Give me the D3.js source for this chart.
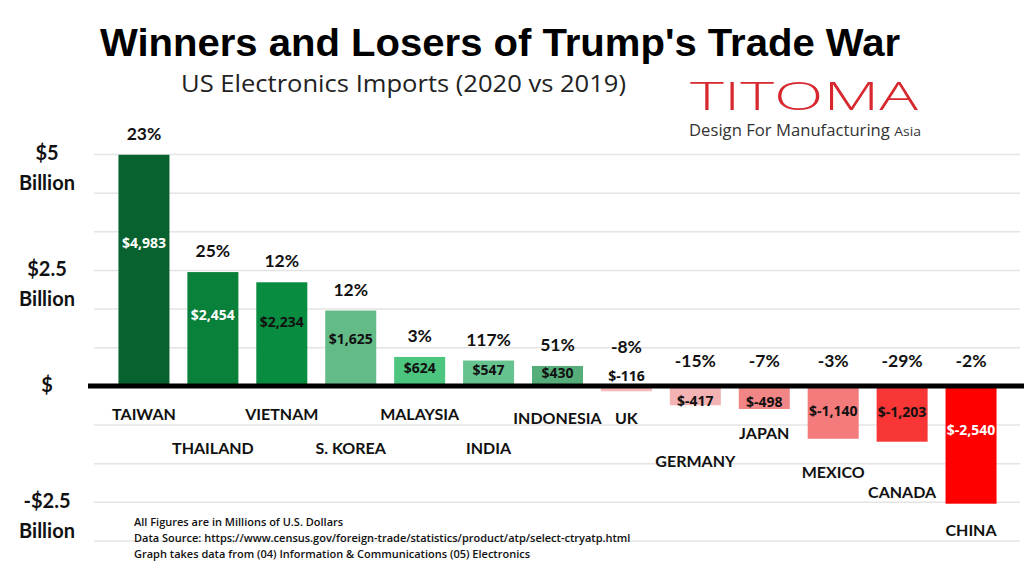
<!DOCTYPE html>
<html lang="en">
<head>
<meta charset="utf-8">
<title>Winners and Losers of Trump's Trade War</title>
<script src="https://d3js.org/d3.v7.min.js" charset="utf-8"></script>
<style>
 body { margin: 0; background: #fff; }
 svg { display: block; }
</style>
</head>
<body>
<script type="text/javascript">

 // Data (millions of US dollars, change 2020 vs 2019)
 var countries = ["TAIWAN", "THAILAND", "VIETNAM", "S. KOREA", "MALAYSIA", "INDIA", "INDONESIA",
                  "UK", "GERMANY", "JAPAN", "MEXICO", "CANADA", "CHINA"];
 var changes = [4983, 2454, 2234, 1625, 624, 547, 430, -116, -417, -498, -1140, -1203, -2540];
 var pctChanges = [23, 25, 12, 12, 3, 117, 51, -8, -15, -7, -3, -29, -2];

 // Y tick labels
 var yTickValues = [5000, 2500, 0, -2500];
 var yTickLabels = [["$5", "Billion"], ["$2.5", "Billion"], ["$"], ["-$2.5", "Billion"]];

 var footnotes = ["All Figures are in Millions of U.S. Dollars",
                  "Data Source: https://www.census.gov/foreign-trade/statistics/product/atp/select-ctryatp.html",
                  "Graph takes data from (04) Information & Communications (05) Electronics"];

 // Styling
 var barColors = ["#07622f", "#0a813b", "#088c40", "#63bb88", "#4cc67f", "#66c28f", "#55ae7a",
                  "#f6b9b9", "#f3b3b3", "#f28585", "#f47b7b", "#f93636", "#fe0000"];
 var valueInk = ["#fff", "#fff", "#111", "#111", "#111", "#111", "#111",
                 "#111", "#111", "#111", "#111", "#111", "#fff"];
 // country label baseline, px below the zero line
 var nameDy = [34, 68, 34, 68, 34, 68, 38, 38, 81, 53, 92, 112, 150];

 var W = 1024, H = 576;

 var svg = d3.select("body").append("svg")
             .attr("width", W)
             .attr("height", H);

 var x = d3.scaleBand()
           .domain(countries)
           .range([109.5, 1005.5])
           .paddingInner(0.26)
           .paddingOuter(0.13);

 var y = d3.scaleLinear()
           .domain([-10000 / 3, 5000])
           .range([540.5, 154]);

 var y0 = y(0);
 var fv = d3.format(",");
 function money(v) { return "$" + (v < 0 ? "-" : "") + fv(Math.abs(v)); }

 //Gridlines
 var grid = svg.append("g")
               .attr("transform", "translate(1020,0)")
               .call(d3.axisLeft(y)
                       .tickValues(d3.range(-4, 7).filter(function (k) { return k != 0; })
                                     .map(function (k) { return k * 5000 / 6; }))
                       .tickSize(926)
                       .tickFormat(""));
 grid.select(".domain").remove();
 grid.selectAll("line").attr("stroke", "#e4e4e4").attr("stroke-width", 1.5);

 //Bars
 svg.selectAll("rect.bar")
    .data(countries)
    .enter()
    .append("rect")
    .attr("class", "bar")
    .attr("x", function (d) { return x(d); })
    .attr("width", x.bandwidth())
    .attr("y", function (d, i) { return Math.min(y(changes[i]), y0); })
    .attr("height", function (d, i) { return Math.abs(y(changes[i]) - y0); })
    .attr("fill", function (d, i) { return barColors[i]; });

 //Zero line
 svg.append("line")
    .attr("x1", 88).attr("x2", W)
    .attr("y1", y0).attr("y2", y0)
    .attr("stroke", "#000")
    .attr("stroke-width", 5);

 //Value labels inside bars
 svg.selectAll("text.value")
    .data(countries)
    .enter()
    .append("text")
    .attr("class", "value")
    .attr("x", function (d) { return x(d) + x.bandwidth() / 2; })
    .attr("y", function (d, i) {
        var h = Math.abs(y(changes[i]) - y0);
        if (changes[i] >= 0) return y0 - 0.62 * h;
        if (h < 10) return y0 - 10;
        return y0 + 9 + 0.3 * h;
    })
    .attr("dy", "0.35em")
    .attr("text-anchor", "middle")
    .attr("font-family", "'Open Sans', sans-serif")
    .attr("font-weight", "bold")
    .attr("font-size", "14px")
    .attr("fill", function (d, i) { return valueInk[i]; })
    .text(function (d, i) { return money(changes[i]); });

 //Percentage labels
 svg.selectAll("text.pct")
    .data(countries)
    .enter()
    .append("text")
    .attr("class", "pct")
    .attr("x", function (d) { return x(d) + x.bandwidth() / 2; })
    .attr("y", function (d, i) {
        var h = Math.abs(y(changes[i]) - y0);
        if (changes[i] >= 0) return y(changes[i]) - 15;
        if (h < 10) return y0 - 33;
        return y0 - 19;
    })
    .attr("text-anchor", "middle")
    .attr("font-family", "Lato, sans-serif")
    .attr("font-weight", "bold")
    .attr("font-size", "17.5px")
    .attr("fill", "#111")
    .text(function (d, i) { return pctChanges[i] + "%"; });

 //Country labels
 svg.selectAll("text.name")
    .data(countries)
    .enter()
    .append("text")
    .attr("class", "name")
    .attr("x", function (d) { return x(d) + x.bandwidth() / 2; })
    .attr("y", function (d, i) { return y0 + nameDy[i]; })
    .attr("text-anchor", "middle")
    .attr("font-family", "Lato, sans-serif")
    .attr("font-weight", "bold")
    .attr("font-size", "16px")
    .attr("fill", "#111")
    .text(function (d) { return d; });

 //Y axis labels
 var yl = svg.selectAll("text.ylab")
             .data(yTickValues)
             .enter()
             .append("text")
             .attr("class", "ylab")
             .attr("x", 47)
             .attr("y", function (d) { return y(d) + 6; })
             .attr("text-anchor", "middle")
             .attr("font-family", "Lato, sans-serif")
             .attr("font-weight", "bold")
             .attr("font-size", "20px")
             .attr("fill", "#111");
 yl.selectAll("tspan")
   .data(function (d, i) { return yTickLabels[i]; })
   .enter()
   .append("tspan")
   .attr("x", 47)
   .attr("dy", function (d, j) { return j == 0 ? 0 : 30; })
   .text(function (d) { return d; });

 //Title
 svg.append("text")
    .attr("x", 100)
    .attr("y", 56)
    .attr("textLength", 800)
    .attr("lengthAdjust", "spacingAndGlyphs")
    .attr("font-family", "'Liberation Sans', Arial, sans-serif")
    .attr("font-weight", "bold")
    .attr("font-size", "39px")
    .attr("fill", "#000")
    .text("Winners and Losers of Trump's Trade War");

 svg.append("text")
    .attr("x", 181)
    .attr("y", 92)
    .attr("textLength", 445)
    .attr("lengthAdjust", "spacingAndGlyphs")
    .attr("font-family", "'Open Sans', sans-serif")
    .attr("font-size", "24px")
    .attr("fill", "#222")
    .text("US Electronics Imports (2020 vs 2019)");

 //Logo
 svg.append("text")
    .attr("x", 690)
    .attr("y", 110)
    .attr("textLength", 228)
    .attr("lengthAdjust", "spacingAndGlyphs")
    .attr("font-family", "'Open Sans', sans-serif")
    .attr("font-weight", 300)
    .attr("font-size", "38px")
    .attr("fill", "#d7282f")
    .text("TITOMA");

 var tag = svg.append("text")
              .attr("x", 689)
              .attr("y", 136)
              .attr("textLength", 232)
              .attr("lengthAdjust", "spacingAndGlyphs")
              .attr("font-family", "'Open Sans', sans-serif")
              .attr("font-size", "15.5px")
              .attr("fill", "#333");
 tag.append("tspan").text("Design For Manufacturing ");
 tag.append("tspan").attr("font-size", "13px").text("Asia");

 //Footnotes
 svg.selectAll("text.note")
    .data(footnotes)
    .enter()
    .append("text")
    .attr("class", "note")
    .attr("x", 134)
    .attr("y", function (d, i) { return 526 + i * 16; })
    .attr("font-family", "'Open Sans', sans-serif")
    .attr("font-weight", 600)
    .attr("font-size", "11px")
    .attr("fill", "#111")
    .text(function (d) { return d; });

</script>
</body>
</html>
